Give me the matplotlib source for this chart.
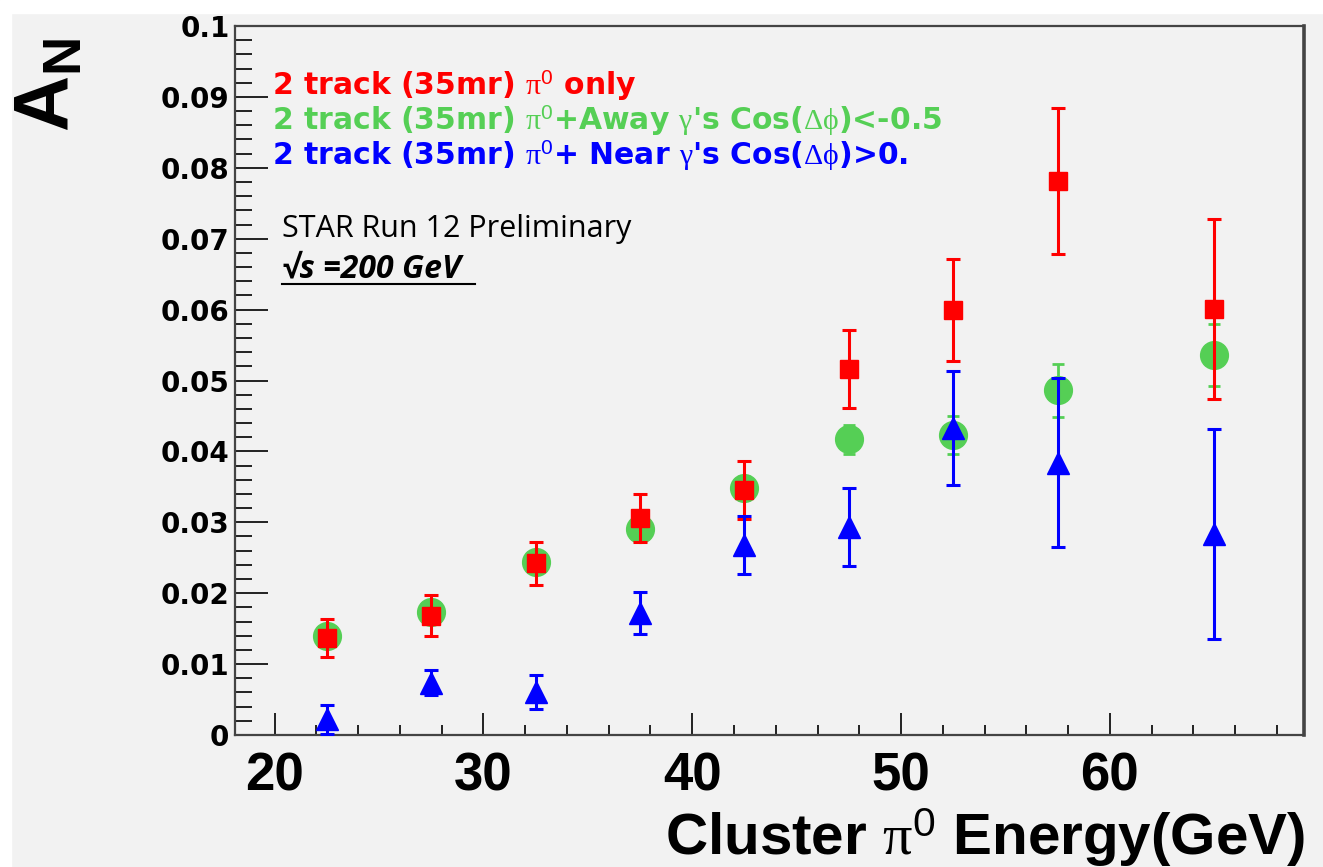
import matplotlib
matplotlib.use("Agg")
import matplotlib.pyplot as plt
from matplotlib.ticker import MultipleLocator, FuncFormatter
from matplotlib.patches import Rectangle
from matplotlib.lines import Line2D

# --- data ---
energy = [22.5, 27.5, 32.5, 37.5, 42.5, 47.5, 52.5, 57.5, 65.0]

an_pi0 = [0.0137, 0.0168, 0.0242, 0.0306, 0.0346, 0.0516, 0.0600, 0.0782, 0.0601]
err_pi0 = [0.0027, 0.0029, 0.0030, 0.0034, 0.0041, 0.0055, 0.0072, 0.0103, 0.0127]

an_away = [0.0139, 0.0173, 0.0244, 0.0290, 0.0348, 0.0417, 0.0423, 0.0486, 0.0536]
err_away = [0.0010, 0.0012, 0.0013, 0.0015, 0.0017, 0.0020, 0.0027, 0.0037, 0.0044]

an_near = [0.0022, 0.0074, 0.0060, 0.0172, 0.0268, 0.0293, 0.0433, 0.0384, 0.0284]
err_near = [0.0020, 0.0018, 0.0024, 0.0030, 0.0041, 0.0055, 0.0080, 0.0119, 0.0148]

labels = [
    r"2 track (35mr) $\mathrm{\pi}^{\mathsf{0}}$ only",
    r"2 track (35mr) $\mathrm{\pi}^{\mathsf{0}}$+Away $\mathrm{\gamma}$'s Cos($\mathrm{\Delta\phi}$)<-0.5",
    r"2 track (35mr) $\mathrm{\pi}^{\mathsf{0}}$+ Near $\mathrm{\gamma}$'s Cos($\mathrm{\Delta\phi}$)>0.",
]

RED = "#ff0000"
GREEN = "#55cf55"
BLUE = "#0000ff"
BG = "#f2f2f2"

plt.rcParams["mathtext.fontset"] = "custom"
plt.rcParams["mathtext.rm"] = "Liberation Serif"
plt.rcParams["mathtext.it"] = "Liberation Serif:italic"
plt.rcParams["mathtext.bf"] = "Liberation Sans:bold"
plt.rcParams["mathtext.sf"] = "Liberation Sans"

fig = plt.figure(figsize=(13.23, 8.67), dpi=100, facecolor=BG)
# white slide margin at top and left
fig.patches.append(Rectangle((0, 1 - 13 / 867), 1, 13 / 867, transform=fig.transFigure,
                             color="white", zorder=-10))
fig.patches.append(Rectangle((0, 0), 11 / 1323, 1, transform=fig.transFigure,
                             color="white", zorder=-10))

ax = fig.add_axes([235 / 1323, 132 / 867, (1304 - 235) / 1323, (735 - 26) / 867])
ax.set_facecolor(BG)

# green first, then red, then blue on top
ax.errorbar(energy, an_away, yerr=err_away, fmt="o", color=GREEN, ms=20,
            elinewidth=2.0, capsize=4, capthick=2.0, zorder=3)
ax.errorbar(energy, an_pi0, yerr=err_pi0, fmt="s", color=RED, ms=13.5,
            elinewidth=2.2, capsize=5, capthick=2.2, zorder=4)
ax.errorbar(energy, an_near, yerr=err_near, fmt="^", color=BLUE, ms=16,
            elinewidth=2.2, capsize=5, capthick=2.2, zorder=5)

ax.set_xlim(18.1, 69.3)
ax.set_ylim(0, 0.1)

ax.xaxis.set_major_locator(MultipleLocator(10))
ax.xaxis.set_minor_locator(MultipleLocator(2))
ax.yaxis.set_major_locator(MultipleLocator(0.01))
ax.yaxis.set_minor_locator(MultipleLocator(0.002))
ax.yaxis.set_major_formatter(FuncFormatter(lambda v, p: "0" if abs(v) < 1e-9 else f"{round(v, 3):g}"))

ax.tick_params(axis="both", which="both", direction="in", colors="#222222", width=1.4)
ax.tick_params(axis="y", which="major", length=24, pad=4)
ax.tick_params(axis="y", which="minor", length=12)
ax.tick_params(axis="x", which="major", length=16, pad=12)
ax.tick_params(axis="x", which="minor", length=7.5)
ax.tick_params(top=False, right=False, which="both")

for lab in ax.get_yticklabels():
    lab.set_fontsize(20)
    lab.set_fontweight("bold")
    lab.set_color("black")
for lab in ax.get_xticklabels():
    lab.set_fontsize(38)
    lab.set_fontweight("bold")
    lab.set_family("Liberation Sans")
    lab.set_color("black")

for s in ax.spines.values():
    s.set_color("#444444")
    s.set_linewidth(1.6)
ax.spines["right"].set_linewidth(2.6)

# axis titles
fig.text(48 / 1323, 1 - 85 / 867, r"$\mathbf{A_N}$", rotation=90, fontsize=56,
         ha="center", va="center")
fig.text(1305 / 1323, 1 - 855 / 867,
         r"Cluster $\mathrm{\pi}^{\mathsf{0}}$ Energy(GeV)",
         fontsize=42, fontweight="bold", family="Liberation Sans",
         ha="right", va="baseline")

# legend lines
for lab, col, yb in zip(labels, [RED, GREEN, BLUE], [95, 130, 165]):
    fig.text(272 / 1323, 1 - yb / 867, lab, color=col, fontsize=21.5,
             fontweight="bold", ha="left", va="baseline")

fig.text(282 / 1323, 1 - 237 / 867, "STAR Run 12 Preliminary", fontsize=22,
         family=["Open Sans", "DejaVu Sans"], ha="left", va="baseline")
fig.text(282 / 1323, 1 - 277 / 867, "\u221as =200 GeV", fontsize=23,
         family=["Open Sans", "DejaVu Sans"], fontweight="bold", fontstyle="italic",
         ha="left", va="baseline")
fig.add_artist(Line2D([282 / 1323, 475 / 1323], [1 - 284 / 867, 1 - 284 / 867],
                      transform=fig.transFigure, color="black", lw=1.5))

fig.savefig("out.png", dpi=100, facecolor=BG)
